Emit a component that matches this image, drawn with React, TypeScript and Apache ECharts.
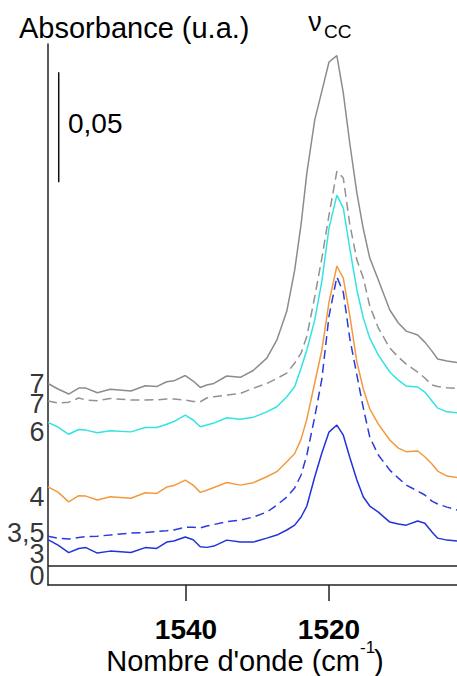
import React, { useEffect, useRef } from "react";
import * as echarts from "echarts";

// Wavenumbers (cm-1), shared sampling of all spectra
const wavenumbers = [
  1559.3, 1557.9, 1556.4, 1555.0, 1554.0, 1552.4, 1550.6, 1547.7, 1545.7, 1544.1,
  1542.7, 1541.7, 1540.1, 1539.0, 1538.0, 1537.1, 1536.1, 1534.3, 1532.4, 1530.6,
  1528.7, 1527.3, 1525.9, 1524.8, 1523.9, 1523.1, 1522.0, 1521.0, 1520.0, 1518.9,
  1518.0, 1517.1, 1516.1, 1515.2, 1514.3, 1513.1, 1511.5, 1510.3, 1509.2, 1507.6,
  1506.6, 1505.6, 1504.8, 1503.5, 1502.1,
];

// Absorbance (offset spectra)
const graySolid7 = [
  0.083, 0.0805, 0.0782, 0.0809, 0.0809, 0.0788, 0.0804, 0.0796, 0.082, 0.0816,
  0.0838, 0.0842, 0.0866, 0.0841, 0.0812, 0.0823, 0.083, 0.0864, 0.0858, 0.0889,
  0.0945, 0.1027, 0.1159, 0.1345, 0.1555, 0.1786, 0.2027, 0.2159, 0.2291, 0.232,
  0.215, 0.1923, 0.1695, 0.1532, 0.14, 0.13, 0.1164, 0.1105, 0.1068, 0.105,
  0.1018, 0.0977, 0.0941, 0.0932, 0.0925,
];
const grayDashed7 = [
  0.075, 0.0741, 0.0745, 0.0764, 0.0755, 0.0752, 0.0762, 0.0755, 0.0755, 0.0756,
  0.0759, 0.0759, 0.0755, 0.0748, 0.0747, 0.0764, 0.077, 0.0777, 0.0785, 0.0808,
  0.083, 0.0853, 0.0877, 0.0923, 0.0968, 0.1045, 0.1223, 0.14, 0.1595, 0.1795,
  0.1764, 0.1555, 0.1391, 0.1309, 0.1182, 0.1082, 0.0991, 0.095, 0.0918, 0.0882,
  0.0855, 0.0823, 0.0816, 0.0811, 0.0808,
];
const cyan6 = [
  0.0653, 0.0632, 0.0599, 0.0621, 0.0618, 0.0606, 0.0615, 0.061, 0.063, 0.063,
  0.0645, 0.0657, 0.0686, 0.0664, 0.0633, 0.0641, 0.065, 0.0674, 0.0667, 0.0676,
  0.0701, 0.0724, 0.077, 0.0815, 0.09, 0.0982, 0.1118, 0.1295, 0.1536, 0.1686,
  0.1627, 0.1445, 0.1255, 0.1127, 0.1036, 0.0959, 0.0882, 0.0845, 0.0818, 0.0814,
  0.0791, 0.075, 0.0718, 0.0701, 0.0697,
];
const orange4 = [
  0.036, 0.0336, 0.0292, 0.032, 0.0318, 0.03, 0.0315, 0.0308, 0.0333, 0.033,
  0.0359, 0.0366, 0.0391, 0.0368, 0.0335, 0.0345, 0.0357, 0.038, 0.0368, 0.0379,
  0.0406, 0.0429, 0.0474, 0.0512, 0.0577, 0.0668, 0.0832, 0.0982, 0.12, 0.1364,
  0.1309, 0.1141, 0.0927, 0.0805, 0.0714, 0.0645, 0.0573, 0.0536, 0.052, 0.0523,
  0.0497, 0.0464, 0.0432, 0.0409, 0.0403,
];
const blueDashed35 = [
  0.0136, 0.0127, 0.0123, 0.013, 0.0134, 0.0136, 0.0141, 0.015, 0.0152, 0.0157,
  0.0161, 0.0164, 0.0177, 0.0177, 0.0173, 0.0182, 0.0189, 0.0202, 0.0209, 0.0223,
  0.0245, 0.0277, 0.0314, 0.0355, 0.0414, 0.0505, 0.0677, 0.085, 0.1136, 0.1314,
  0.1245, 0.1036, 0.0868, 0.0718, 0.0586, 0.0505, 0.0436, 0.04, 0.0368, 0.0341,
  0.0323, 0.0295, 0.0282, 0.0268, 0.0255,
];
const blueSolid3 = [
  0.012, 0.0095, 0.0061, 0.008, 0.0084, 0.0059, 0.0068, 0.0062, 0.0084, 0.008,
  0.0109, 0.0114, 0.0132, 0.012, 0.0088, 0.0085, 0.0091, 0.0118, 0.0109, 0.0109,
  0.0127, 0.0141, 0.0164, 0.0186, 0.0223, 0.0273, 0.0405, 0.0514, 0.0609, 0.0641,
  0.0595, 0.0495, 0.0391, 0.0314, 0.0273, 0.0245, 0.02, 0.0191, 0.0186, 0.0205,
  0.0195, 0.0155, 0.0127, 0.0118, 0.0114,
];

// Offset labels on the left and their levels
const offsetLabels = ["7", "7", "6", "4", "3,5", "3", "0"];
const offsetLabelLevels = [0.0827, 0.0736, 0.061, 0.0315, 0.0152, 0.0057, -0.0045];

// Axis
const xTicks = [1540, 1520];
const xMin = 1502.1;
const xMax = 1559.3;
const yMin = -0.0086;
const yMax = 0.2373;

// Scale bar (0,05 absorbance)
const scaleBarX = [1557.8];
const scaleBarBottom = [0.1745];
const scaleBarLength = [0.05];

const FONT = "'Liberation Sans', Arial, Helvetica, sans-serif";

const toPairs = (vals: number[]) => wavenumbers.map((w, i) => [w, vals[i]]);

export default function App() {
  const ref = useRef<HTMLDivElement>(null);
  useEffect(() => {
    if (!ref.current) return;
    const chart = echarts.init(ref.current, null, { renderer: "svg" });
    const lineSeries = (name: string, vals: number[], color: string, dashed: boolean) => ({
      name,
      type: "line",
      data: toPairs(vals),
      showSymbol: false,
      symbol: "none",
      smooth: false,
      lineStyle: { color, width: 1.5, type: dashed ? [9, 5] : "solid" },
      silent: true,
    });
    chart.setOption({
      animation: false,
      backgroundColor: "#ffffff",
      grid: { left: 48, right: 0, top: 44, bottom: 91, containLabel: false },
      xAxis: {
        type: "value",
        inverse: true,
        min: xMin,
        max: xMax,
        axisLine: { show: true, onZero: false, lineStyle: { color: "#222", width: 1.5 } },
        axisTick: {
          show: true,
          customValues: xTicks,
          length: 16,
          inside: false,
          lineStyle: { color: "#222", width: 1.5 },
        },
        axisLabel: {
          show: true,
          customValues: xTicks,
          formatter: (v: number) => String(v),
          fontSize: 28,
          fontWeight: "bold",
          fontFamily: FONT,
          color: "#000",
          margin: 30,
        },
        splitLine: { show: false },
      },
      yAxis: {
        type: "value",
        min: yMin,
        max: yMax,
        axisLine: { show: true, onZero: false, lineStyle: { color: "#222", width: 1.5 } },
        axisTick: { show: false },
        axisLabel: { show: false },
        splitLine: { show: false },
      },
      series: [
        {
          name: "baseline",
          type: "line",
          data: [
            [xMax, 0],
            [xMin, 0],
          ],
          showSymbol: false,
          symbol: "none",
          lineStyle: { color: "#222", width: 1.5 },
          silent: true,
        },
        lineSeries("3", blueSolid3, "#2233d8", false),
        lineSeries("3,5", blueDashed35, "#2a3bdc", true),
        lineSeries("4", orange4, "#f29a3d", false),
        lineSeries("6", cyan6, "#33e3e3", false),
        lineSeries("7 dashed", grayDashed7, "#929292", true),
        lineSeries("7", graySolid7, "#8c8c8c", false),
        {
          name: "scale",
          type: "line",
          data: [
            [scaleBarX[0], scaleBarBottom[0]],
            [scaleBarX[0], scaleBarBottom[0] + scaleBarLength[0]],
          ],
          showSymbol: false,
          symbol: "none",
          lineStyle: { color: "#111", width: 1.5 },
          silent: true,
        },
        {
          name: "labels",
          type: "scatter",
          clip: false,
          symbolSize: 1,
          itemStyle: { color: "rgba(0,0,0,0)" },
          data: offsetLabelLevels.map((v) => [xMax, v]),
          label: {
            show: true,
            position: "left",
            distance: 3,
            formatter: (p: any) => offsetLabels[p.dataIndex],
            fontSize: 27,
            lineHeight: 18,
            fontFamily: FONT,
            color: "#000",
            textBorderWidth: 0,
          },
          labelLayout: { hideOverlap: false },
          silent: true,
        },
      ],
      graphic: [
        {
          type: "text",
          x: 19,
          y: 28,
          style: {
            text: "Absorbance (u.a.)",
            fontSize: 29,
            fontFamily: FONT,
            fill: "#000",
            textAlign: "left",
            textVerticalAlign: "middle",
          },
        },
        {
          type: "text",
          x: 68,
          y: 123,
          style: {
            text: "0,05",
            fontSize: 28,
            fontFamily: FONT,
            fill: "#000",
            textAlign: "left",
            textVerticalAlign: "middle",
          },
        },
        {
          type: "text",
          x: 315,
          y: 22,
          style: {
            text: "ν",
            fontSize: 27,
            fontFamily: FONT,
            fill: "#000",
            textAlign: "center",
            textVerticalAlign: "middle",
          },
        },
        {
          type: "text",
          x: 324,
          y: 31,
          style: {
            text: "CC",
            fontSize: 19,
            fontFamily: FONT,
            fill: "#000",
            textAlign: "left",
            textVerticalAlign: "middle",
          },
        },
        {
          type: "text",
          x: 360,
          y: 661,
          style: {
            text: "Nombre d'onde (cm",
            fontSize: 29,
            fontFamily: FONT,
            fill: "#000",
            textAlign: "right",
            textVerticalAlign: "middle",
          },
        },
        {
          type: "text",
          x: 360,
          y: 647,
          style: {
            text: "-1",
            fontSize: 17,
            fontFamily: FONT,
            fill: "#000",
            textAlign: "left",
            textVerticalAlign: "middle",
          },
        },
        {
          type: "text",
          x: 374,
          y: 661,
          style: {
            text: ")",
            fontSize: 29,
            fontFamily: FONT,
            fill: "#000",
            textAlign: "left",
            textVerticalAlign: "middle",
          },
        },
      ],
    });
    return () => chart.dispose();
  }, []);
  return (
    <div
      ref={ref}
      style={{ position: "fixed", left: 0, top: 0, width: 457, height: 676, background: "#fff" }}
    />
  );
}
